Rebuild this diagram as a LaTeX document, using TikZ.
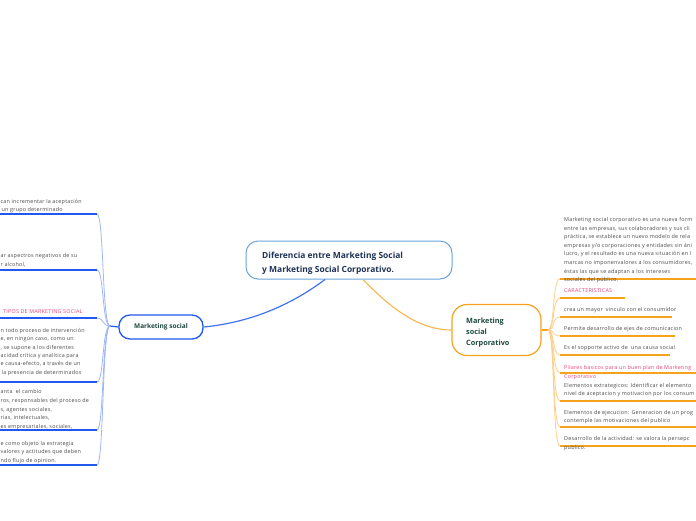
\documentclass[tikz,border=0pt]{standalone}
\usepackage{fontspec}
\setmainfont{Open Sans}
\newfontfamily\smallf[LetterSpace=4]{Open Sans}
\definecolor{cCentral}{HTML}{6AA6DB}
\definecolor{cNavy}{HTML}{1F3358}
\definecolor{cGreen}{HTML}{1D4A3F}
\definecolor{cBlue}{HTML}{2159F0}
\definecolor{cBlueL}{HTML}{9DB6F7}
\definecolor{cOrange}{HTML}{F7A21B}
\definecolor{cOrangeL}{HTML}{FDCF8A}
\definecolor{cPink}{HTML}{E8427A}
\definecolor{cText}{HTML}{4A4A4A}
\tikzset{
  tx/.style={anchor=base west, inner sep=0pt, text=cText, font=\smallf\fontsize{5.4}{6}\selectfont},
  pk/.style={tx, text=cPink},
  lconn/.style={draw=cBlueL, line width=0.8pt},
  lul/.style={draw=cBlue, line width=1.5pt},
  rconn/.style={draw=cOrangeL, line width=0.8pt},
  rul/.style={draw=cOrange, line width=1.5pt},
  ttl/.style={anchor=base west, inner sep=0pt, text=cNavy, font=\fontsize{8.45}{10}\selectfont\bfseries},
  sub/.style={anchor=base west, inner sep=0pt, text=cGreen, font=\fontsize{7.3}{9}\selectfont\bfseries}
}
\begin{document}
\begin{tikzpicture}[x=1pt,y=-1pt]
\useasboundingbox (0,0) rectangle (696,520);
\clip (0,0) rectangle (696,520);

% central node
\node[draw=cCentral, line width=1pt, rounded corners=12pt, fill=white, minimum width=206pt, minimum height=38pt, inner sep=0pt] (central) at (349,260) {};
\node[ttl] (c1) at (262,258) {Diferencia entre Marketing Social};
\node[ttl] (c2) at (262,272) {y Marketing Social Corporativo.};

% Marketing social
\node[draw=cBlue, line width=1.3pt, rounded corners=11pt, fill=white, minimum width=84pt, minimum height=24pt, inner sep=0pt, text=cGreen, font=\fontsize{6.5}{8}\selectfont\bfseries] (ms) at (161,327) {Marketing social};

% Marketing social Corporativo
\node[draw=cOrange, line width=1.2pt, rounded corners=15pt, fill=white, minimum width=89pt, minimum height=51pt, inner sep=0pt] (mc) at (496.5,330) {};
\node[sub] (mc1) at (466,323) {Marketing};
\node[sub] (mc2) at (466,334.3) {social};
\node[sub] (mc3) at (466,345.6) {Corporativo};

% main connectors
\coordinate (cb1) at (325,279.5);
\coordinate (cb2) at (363,279.5);
\draw[draw=cBlue!85!white, line width=1.2pt] (cb1) .. controls (295,302) and (255,322) .. (ms.east);
\draw[draw=cOrange!80!white, line width=1.1pt] (cb2) .. controls (385,302) and (415,330) .. (mc.west);

% left branches
\coordinate (lt) at (110,326);
\draw[draw=cBlue, line width=1.2pt] (ms.west) -- (lt);
\foreach \y [count=\i] in {214,270,318,382,430,465} {
  \coordinate (le\i) at (97,\y);
  \coordinate (ls\i) at (-5,\y);
  \draw[lconn] (lt) .. controls (102,326) and (104,\y) .. (le\i);
  \draw[lul] (le\i) -- (ls\i);
}

% right branches
\coordinate (rt) at (548,330);
\draw[draw=cOrange, line width=1.2pt] (mc.east) -- (rt);
\foreach \y/\e [count=\i] in {279/700,298/625,317/672,336/675,355/670,373/700,401/700,427/700,446/700} {
  \coordinate (rs\i) at (560,\y);
  \coordinate (re\i) at (\e,\y);
  \draw[rconn] (rt) .. controls (555,330) and (552,\y) .. (rs\i);
  \draw[rul] (rs\i) -- (re\i);
}

% left texts
\node[tx] (l1a) at (0.5,203.5) {can incrementar la aceptación};
\node[tx] (l1b) at (1.5,211.5) {un grupo determinado};
\node[tx] (l2a) at (0.5,257.5) {ar aspectros negativos de su};
\node[tx] (l2b) at (0.5,266.5) {r alcohol,};
\node[pk] (l3a) at (3,313.5) {TIPOS DE MARKETING SOCIAL};
\node[tx] (l4a) at (0.5,332.5) {n todo proceso de intervención};
\node[tx] (l4b) at (0.5,340.9) {e, en ningún caso, como un};
\node[tx] (l4c) at (0.5,349.2) {, se supone a los diferentes};
\node[tx] (l4d) at (0.5,357.5) {acidad crítica y analítica para};
\node[tx] (l4e) at (0.5,365.9) {e causa-efecto, a través de un};
\node[tx] (l4f) at (1.5,374.3) {la presencia de determinados};
\node[tx] (l5a) at (0.5,393.5) {anta\ \ el cambio};
\node[tx] (l5b) at (0.5,402.3) {ros, responsables del proceso de};
\node[tx] (l5c) at (0.5,411.1) {s, agentes sociales,};
\node[tx] (l5d) at (0.5,419.9) {rias, intelectuales,};
\node[tx] (l5e) at (0.5,428.7) {es empresariales, sociales,};
\node[tx] (l6a) at (0.5,445) {e como objeto la estrategia};
\node[tx] (l6b) at (0.5,453.5) {valores y actitudes que deben};
\node[tx] (l6c) at (0.5,462) {ndo flujo de opinion.};

% right texts
\node[tx] (r1a) at (564,221.5) {Marketing social corporativo es una nueva form};
\node[tx] (r1b) at (564,230.1) {entre las empresas, sus colaboradores y sus cli};
\node[tx] (r1c) at (564,238.7) {práctica, se establece un nuevo modelo de rela};
\node[tx] (r1d) at (564,247.2) {empresas y/o corporaciones y entidades sin áni};
\node[tx] (r1e) at (564,255.8) {lucro, y el resultado es una nueva situación en l};
\node[tx] (r1f) at (564,264.4) {marcas no imponenvalores a los consumidores,};
\node[tx] (r1g) at (564,273) {éstas las que se adaptan a los intereses};
\node[tx] (r1h) at (564,281.5) {sociales del público.};
\node[pk] (r2a) at (564,292.5) {CARACTERISTICAS};
\node[tx] (r3a) at (564,311.5) {crea un mayor\ \ vinculo con el consumidor};
\node[tx] (r4a) at (564,330.5) {Permite desarrollo de ejes de comunicacion};
\node[tx] (r5a) at (564,349.5) {Es el sopporte activo de\ \ una causa social};
\node[pk] (r6a) at (564,369) {Pilares basicos para un buen plan de Marketing};
\node[pk] (r6b) at (564,378) {Corporativo};
\node[tx] (r7a) at (564,387) {Elementos extrategicos: Identificar el elemento};
\node[tx] (r7b) at (564,395) {nivel de aceptacion y motivacion por los consum};
\node[tx] (r8a) at (564,414) {Elementos de ejecucion: Generacion de un prog};
\node[tx] (r8b) at (564,422.5) {contemple las motivaciones del publico};
\node[tx] (r9a) at (564,440) {Desarrollo de la actividad: se valora la persepc};
\node[tx] (r9b) at (564,449) {publico.};
\end{tikzpicture}
\end{document}
